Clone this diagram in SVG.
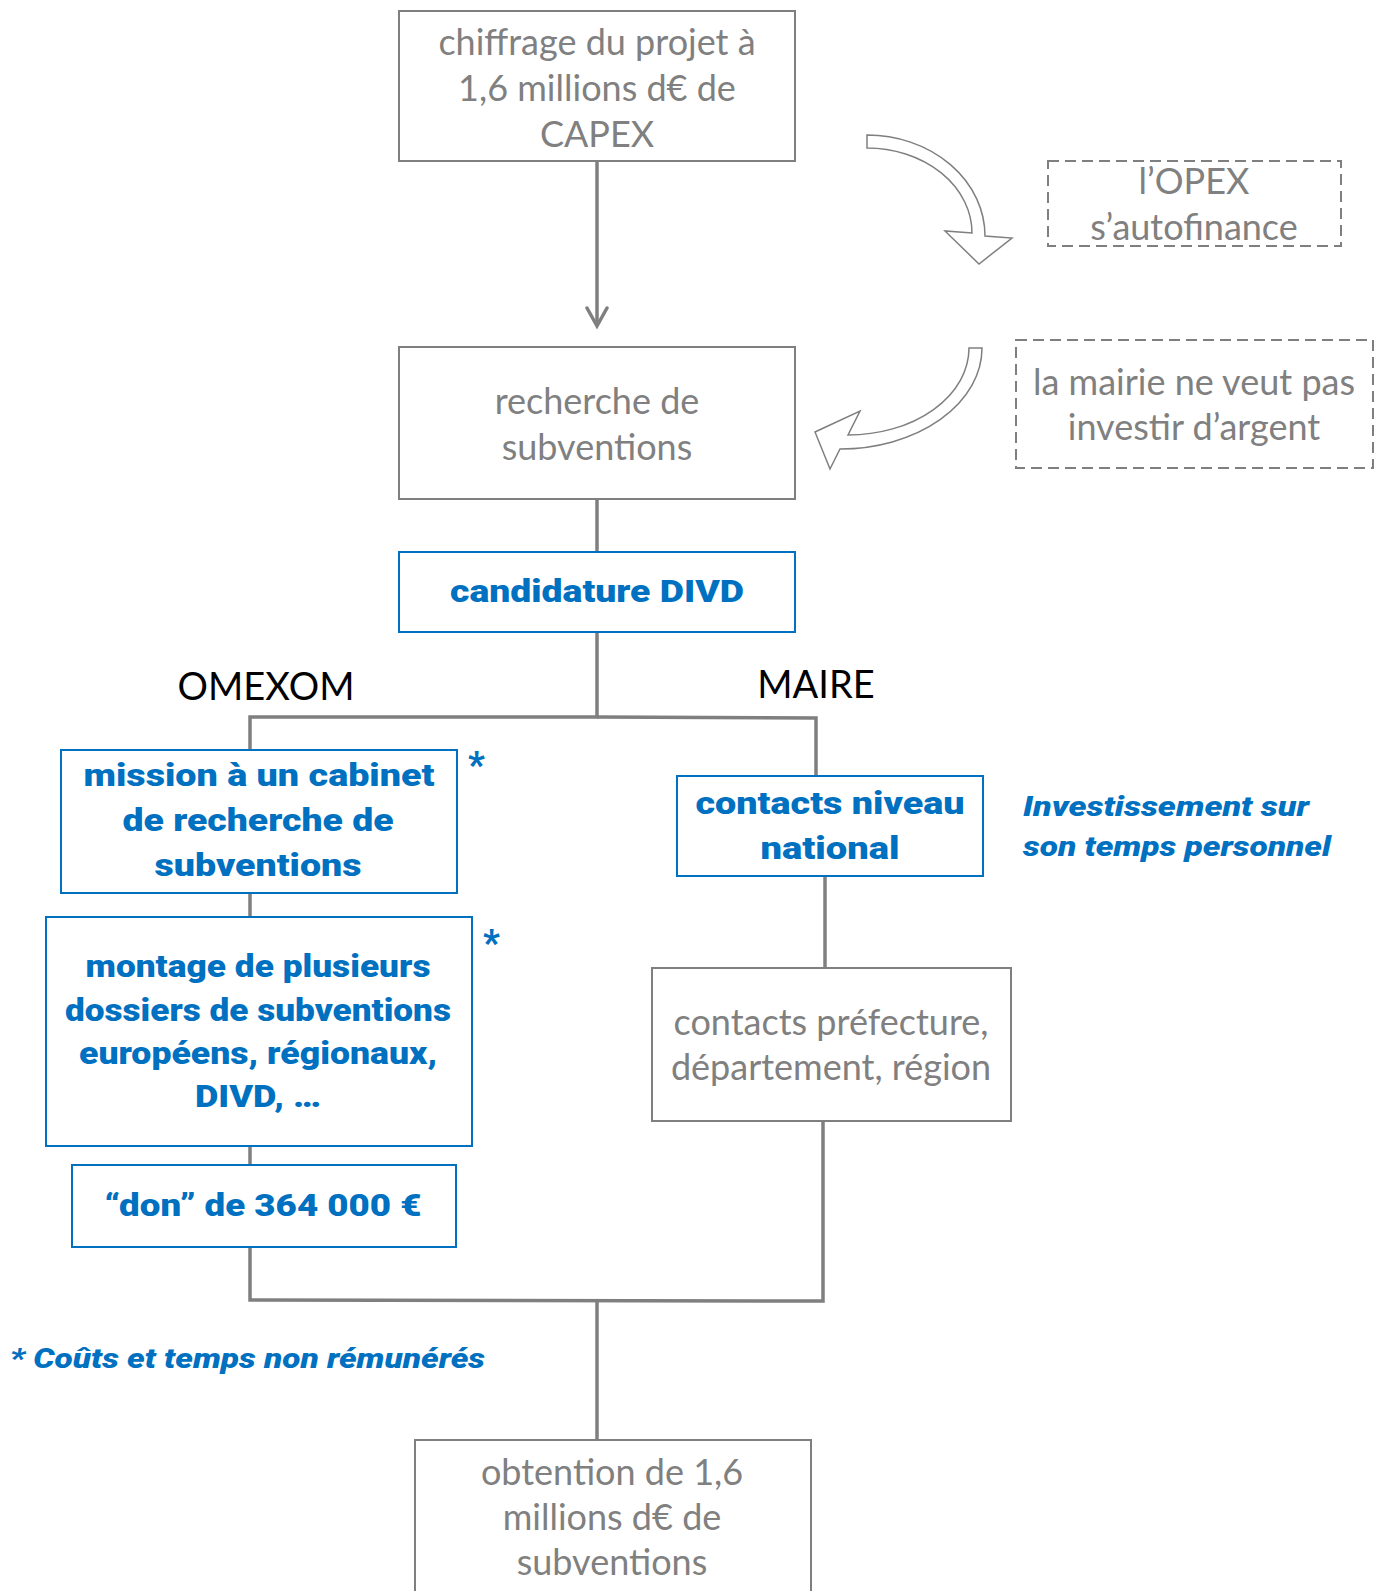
<svg xmlns="http://www.w3.org/2000/svg" width="1384" height="1591" viewBox="0 0 1384 1591">
<defs>
<marker id="chev" markerUnits="userSpaceOnUse" markerWidth="24" markerHeight="24" viewBox="0 0 24 24" refX="20" refY="12" orient="auto">
<path d="M2,2 L20,12 L2,22" fill="none" stroke="#7f7f7f" stroke-width="3.5" stroke-linecap="round" stroke-linejoin="miter"/>
</marker>
</defs>
<style>
.box{fill:#fff;stroke:#7f7f7f;stroke-width:2}
.bbox{fill:#fff;stroke:#0070c0;stroke-width:2}
.dbox{fill:none;stroke:#7f7f7f;stroke-width:2;stroke-dasharray:11,6}
.g{font-family:Lato,"Liberation Sans",sans-serif;font-size:36px;fill:#808080;text-anchor:middle}
.b{font-family:Roboto,"Liberation Sans",sans-serif;font-size:31px;font-weight:900;fill:#0070c0;text-anchor:middle}
.bi{font-family:Roboto,"Liberation Sans",sans-serif;font-size:27px;font-weight:900;font-style:italic;fill:#0070c0}
.st{font-family:Roboto,"Liberation Sans",sans-serif;font-size:36px;font-weight:900;fill:#0070c0}
.k{font-family:Lato,"Liberation Sans",sans-serif;font-size:38px;fill:#000;text-anchor:middle}
.c{fill:none;stroke:#7f7f7f;stroke-width:3.5}
.ca{fill:#fff;stroke:#7f7f7f;stroke-width:1.5;stroke-linejoin:miter}
</style>
<g id="connectors">
<line class="c" x1="597" y1="161" x2="597" y2="326" marker-end="url(#chev)"/>
<line class="c" x1="597" y1="499" x2="597" y2="552"/>
<polyline class="c" points="597,632 597,717 250,717 250,749"/>
<polyline class="c" points="597,717 816,718 816,776"/>
<line class="c" x1="250" y1="893" x2="250" y2="917"/>
<line class="c" x1="250" y1="1146" x2="250" y2="1165"/>
<line class="c" x1="825" y1="876" x2="825" y2="968"/>
<polyline class="c" points="250,1247 250,1300 823,1301 823,1121"/>
<line class="c" x1="597" y1="1300" x2="597" y2="1440"/>
<path class="ca" d="M867,135 A118,101 0 0 1 985,236 L1012,238 L979,264 L945,231 L972,233 A105,85 0 0 0 867,148 Z"/>
<path class="ca" d="M982,348 A142,101 0 0 1 840,449 L830,469 L815,432 L860,411 L848,435 A121,87 0 0 0 969,348 Z"/>
</g>
<g id="n-chiffrage">
<rect class="box" x="399" y="11" width="396" height="150"/>
<text class="g" x="597" y="55">chiffrage du projet à</text>
<text class="g" x="597" y="101">1,6 millions d€ de</text>
<text class="g" x="597" y="147">CAPEX</text>
</g>
<g id="n-opex">
<rect class="dbox" x="1048" y="161" width="293" height="85"/>
<text class="g" x="1194" y="194">l’OPEX</text>
<text class="g" x="1194" y="240">s’autofinance</text>
</g>
<g id="n-mairie">
<rect class="dbox" x="1016" y="340" width="357" height="128"/>
<text class="g" x="1194" y="395">la mairie ne veut pas</text>
<text class="g" x="1194" y="440">investir d’argent</text>
</g>
<g id="n-recherche">
<rect class="box" x="399" y="347" width="396" height="152"/>
<text class="g" x="597" y="414">recherche de</text>
<text class="g" x="597" y="460">subventions</text>
</g>
<g id="n-candidature">
<rect class="bbox" x="399" y="552" width="396" height="80"/>
<text class="b" x="597" y="602" textLength="294" lengthAdjust="spacingAndGlyphs">candidature DIVD</text>
</g>
<g id="l-omexom"><text class="k" x="266" y="700">OMEXOM</text></g>
<g id="l-maire"><text class="k" x="816" y="698">MAIRE</text></g>
<g id="n-mission">
<rect class="bbox" x="61" y="750" width="396" height="143"/>
<text class="b" x="259" y="786" textLength="351" lengthAdjust="spacingAndGlyphs">mission à un cabinet</text>
<text class="b" x="258" y="831" textLength="271" lengthAdjust="spacingAndGlyphs">de recherche de</text>
<text class="b" x="258" y="876" textLength="207" lengthAdjust="spacingAndGlyphs">subventions</text>
<text class="st" x="468" y="777">*</text>
</g>
<g id="n-montage">
<rect class="bbox" x="46" y="917" width="426" height="229"/>
<text class="b" x="258" y="977" textLength="345" lengthAdjust="spacingAndGlyphs">montage de plusieurs</text>
<text class="b" x="258" y="1021" textLength="386" lengthAdjust="spacingAndGlyphs">dossiers de subventions</text>
<text class="b" x="258" y="1064" textLength="358" lengthAdjust="spacingAndGlyphs">européens, régionaux,</text>
<text class="b" x="258" y="1107" textLength="126" lengthAdjust="spacingAndGlyphs">DIVD, …</text>
<text class="st" x="483" y="955">*</text>
</g>
<g id="n-don">
<rect class="bbox" x="72" y="1165" width="384" height="82"/>
<text class="b" x="263" y="1216" textLength="317" lengthAdjust="spacingAndGlyphs">“don” de 364 000 €</text>
</g>
<g id="n-national">
<rect class="bbox" x="677" y="776" width="306" height="100"/>
<text class="b" x="830" y="814" textLength="269" lengthAdjust="spacingAndGlyphs">contacts niveau</text>
<text class="b" x="830" y="859" textLength="139" lengthAdjust="spacingAndGlyphs">national</text>
</g>
<g id="l-invest">
<text class="bi" x="1023" y="816" textLength="286" lengthAdjust="spacingAndGlyphs">Investissement sur</text>
<text class="bi" x="1023" y="856" textLength="308" lengthAdjust="spacingAndGlyphs">son temps personnel</text>
</g>
<g id="n-prefecture">
<rect class="box" x="652" y="968" width="359" height="153"/>
<text class="g" x="831" y="1035">contacts préfecture,</text>
<text class="g" x="831" y="1080">département, région</text>
</g>
<g id="l-note"><text class="bi" x="10" y="1368" textLength="475" lengthAdjust="spacingAndGlyphs">* Coûts et temps non rémunérés</text></g>
<g id="n-obtention">
<rect class="box" x="415" y="1440" width="396" height="170"/>
<text class="g" x="612" y="1485">obtention de 1,6</text>
<text class="g" x="612" y="1530">millions d€ de</text>
<text class="g" x="612" y="1575">subventions</text>
</g>
</svg>
